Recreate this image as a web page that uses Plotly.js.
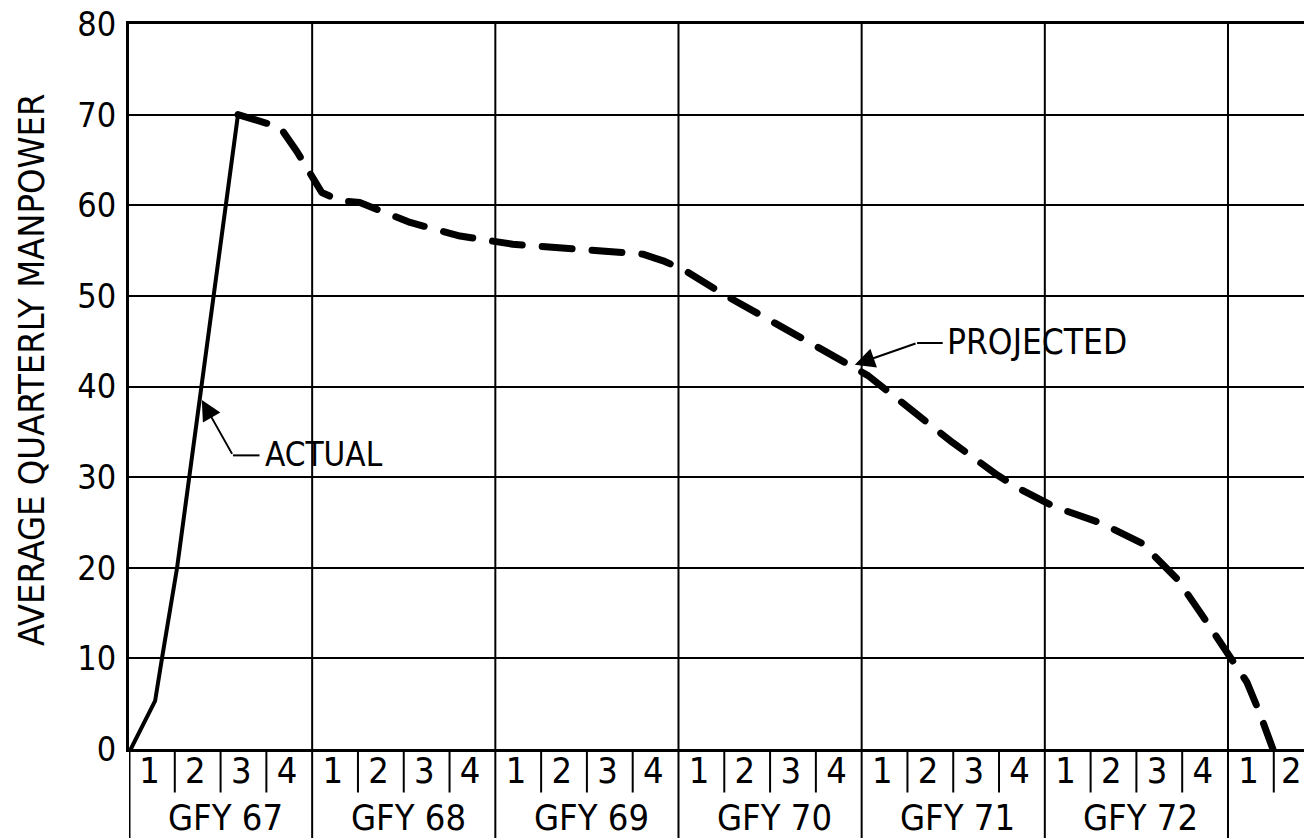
<!DOCTYPE html>
<html>
<head>
<meta charset="utf-8">
<script src="https://cdn.plot.ly/plotly-3.0.1.min.js"></script>
<style>
  html, body { margin: 0; padding: 0; background: #fff; }
  #chart { width: 1304px; height: 838px; }
  .scatterlayer path.js-line { stroke-linecap: round; stroke-linejoin: round; }
</style>
</head>
<body>
<div id="chart"></div>
<script>
// ---- data (x = quarters elapsed since start of GFY 67) ----
const quarterLabels = ['1', '2', '3', '4'];
const fiscalYears = ['GFY 67', 'GFY 68', 'GFY 69', 'GFY 70', 'GFY 71', 'GFY 72'];
const extraQuarters = ['1', '2'];           // first quarters of GFY 73 (partly shown)

const actualQ  = [0.04, 0.57, 0.72, 1.05, 2.38];
const actualMP = [0,    5.3,  10,   20,   70];

const projectedQ  = [2.38, 3.30, 3.67, 4.21, 4.61, 5.04, 6.14, 7.23, 8.38, 9.78, 11.22, 11.70, 12.14,
                     13.01, 14.0, 15.02, 16.14, 17.01, 17.99, 18.97, 19.41, 20.22, 21.24, 22.12,
                     22.90, 23.43, 24.0, 24.41, 24.69, 24.98];
const projectedMP = [70,   68.6, 65.9, 61.4, 60.5, 60.3, 58.1, 56.6, 55.7, 55.1, 54.6,  53.8,  52.8,
                     50.1, 47.4, 44.4, 41.2, 37.7, 33.8, 30.2, 28.8, 26.7, 24.9, 22.7,
                     18.7, 14.8, 10.4, 7.4,  4.0,  0];

const yTicks = [0, 10, 20, 30, 40, 50, 60, 70, 80];

// ---- derived tick / separator positions ----
const FONT = '"Liberation Sans Narrow", "DejaVu Sans Condensed", "Liberation Sans", sans-serif';
const nYears = fiscalYears.length;
const tickVals = [], tickText = [];
const allQuarterLabels = [];
for (let y = 0; y < nYears; y++) quarterLabels.forEach(q => allQuarterLabels.push(q));
extraQuarters.forEach(q => allQuarterLabels.push(q));
allQuarterLabels.forEach((q, i) => {
  const isLast = i === allQuarterLabels.length - 1;
  tickVals.push(i + (isLast ? 0.38 : 0.45));
  tickText.push(q);
});

const bottomPaper = -89 / 725;
const shapes = [];
// left border extension below the plot
shapes.push({type: 'line', xref: 'x', yref: 'paper', x0: 0, x1: 0, y0: bottomPaper, y1: 0,
             line: {color: '#000', width: 3}});
for (let b = 1; b <= allQuarterLabels.length; b++) {
  if (b % 4 === 0) {
    // year boundary: full height grid line, extending to bottom of page
    shapes.push({type: 'line', xref: 'x', yref: 'paper', x0: b, x1: b, y0: bottomPaper, y1: 1,
                 line: {color: '#000', width: 2}});
  } else if (b < allQuarterLabels.length) {
    // quarter separator in the label row
    shapes.push({type: 'line', xref: 'x', yref: 'paper', x0: b, x1: b, y0: -0.06, y1: 0,
                 line: {color: '#000', width: 2}});
  }
}
// leader lines (horizontal parts)
shapes.push({type: 'line', xref: 'x', yref: 'y', x0: 2.27, x1: 2.85, y0: 32.4, y1: 32.4,
             line: {color: '#000', width: 2}});
shapes.push({type: 'line', xref: 'x', yref: 'y', x0: 17.21, x1: 17.77, y0: 44.8, y1: 44.8,
             line: {color: '#000', width: 2}});

const annotations = [];
fiscalYears.forEach((t, i) => {
  annotations.push({text: t, xref: 'x', yref: 'paper', x: i * 4 + 2.1, y: -0.094,
                    xanchor: 'center', yanchor: 'middle', showarrow: false,
                    font: {family: FONT, size: 36, color: '#000'}});
});
annotations.push({text: 'AVERAGE QUARTERLY MANPOWER', xref: 'paper', yref: 'paper',
                  x: (31 - 129) / 1175, y: (749 - 370) / 725, textangle: -90,
                  xanchor: 'center', yanchor: 'middle', showarrow: false,
                  font: {family: FONT, size: 36, color: '#000'}});
annotations.push({text: 'ACTUAL', xref: 'x', yref: 'y', x: 2.92, y: 32.5,
                  xanchor: 'left', yanchor: 'middle', showarrow: false,
                  font: {family: FONT, size: 33, color: '#000'}});
annotations.push({text: 'PROJECTED', xref: 'x', yref: 'y', x: 17.82, y: 44.9,
                  xanchor: 'left', yanchor: 'middle', showarrow: false,
                  font: {family: FONT, size: 35, color: '#000'}});
annotations.push({text: '', xref: 'x', yref: 'y', x: 1.59, y: 38.5, axref: 'x', ayref: 'y',
                  ax: 2.27, ay: 32.4, showarrow: true, arrowhead: 2, arrowsize: 2,
                  arrowwidth: 2, arrowcolor: '#000', standoff: 0, startstandoff: 0});
annotations.push({text: '', xref: 'x', yref: 'y', x: 15.85, y: 42.4, axref: 'x', ayref: 'y',
                  ax: 17.21, ay: 44.8, showarrow: true, arrowhead: 2, arrowsize: 2,
                  arrowwidth: 2, arrowcolor: '#000', standoff: 0, startstandoff: 0});

const traces = [
  {x: actualQ, y: actualMP, type: 'scatter', mode: 'lines', name: 'Actual',
   line: {color: '#000', width: 4}, hoverinfo: 'skip'},
  {x: projectedQ, y: projectedMP, type: 'scatter', mode: 'lines', name: 'Projected',
   line: {color: '#000', width: 7, dash: '30px,20px'}, hoverinfo: 'skip'}
];

const layout = {
  width: 1304, height: 838,
  margin: {l: 129, r: 0, t: 24, b: 89, pad: 0},
  paper_bgcolor: '#fff', plot_bgcolor: '#fff',
  showlegend: false,
  font: {family: FONT, color: '#000'},
  xaxis: {range: [0, 25.66], tickmode: 'array', tickvals: tickVals, ticktext: tickText,
          showgrid: false, zeroline: false, showline: true, linecolor: '#000', linewidth: 3,
          mirror: true, ticks: '', tickfont: {family: FONT, size: 36, color: '#000'},
          ticklabelstandoff: -12, ticklabeloverflow: 'allow', fixedrange: true},
  yaxis: {range: [0, 80], tickmode: 'array', tickvals: yTicks, ticktext: yTicks.map(String),
          showgrid: true, gridcolor: '#000', gridwidth: 2, zeroline: false,
          showline: true, linecolor: '#000', linewidth: 3, ticks: '',
          tickfont: {family: FONT, size: 34, color: '#000'}, ticklabelstandoff: 3,
          fixedrange: true},
  shapes: shapes,
  annotations: annotations
};

Plotly.newPlot('chart', traces, layout, {staticPlot: true, displayModeBar: false});
</script>
</body>
</html>
